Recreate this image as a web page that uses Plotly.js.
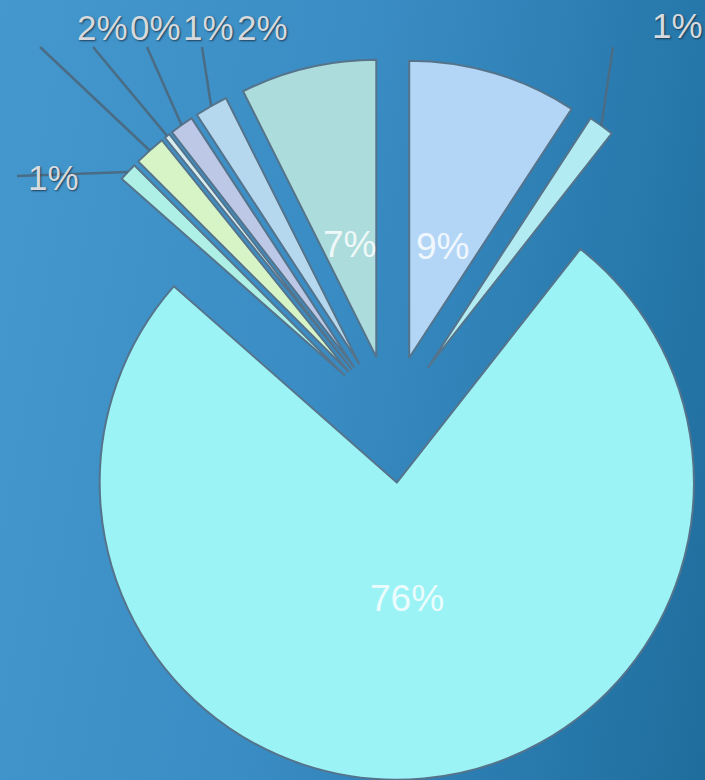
<!DOCTYPE html>
<html>
<head>
<meta charset="utf-8">
<script src="https://cdn.plot.ly/plotly-3.0.1.min.js"></script>
<style>
html, body { margin:0; padding:0; width:705px; height:780px; overflow:hidden;
  background: linear-gradient(100deg, #4498cd 0%, #3a8dc4 45%, #2a7cb0 75%, #1f6d9c 100%); }
#chart { position:absolute; left:0; top:0; width:752px; height:780px; }
</style>
</head>
<body>
<div id="chart"></div>
<script>
// ---- data ----
const categories = ['Slice A','Slice B','Slice C','Slice D','Slice E','Slice F','Slice G','Slice H','Slice I'];
const values = [9.2, 1.4, 75.9, 1.0, 1.7, 0.3, 1.3, 1.8, 7.4];
const sliceColors = ['#b4d6f6','#b2ecf2','#9cf3f6','#aef0e6','#d6f4c6','#d8ecee','#bcc8e6','#b6d8ee','#acdcdc'];
const labelPlacement = ['inside','outside','inside','outside','outside','outside','outside','outside','inside'];

// ---- layout constants ----
const W = 752, H = 780, M = {l:30, r:0, t:58, b:0};
const PULL = 0.215;
const INSIDE_FRAC = 0.39;
// outside label placement (pixel positions of leader-line end and label centre)
const outsideLabels = {
  1: {end:[613,47],  text:[677,26]},
  3: {end:[17,176],  text:[53,177]},
  4: {end:[40,47],   text:[102,27]},
  5: {end:[93,47],   text:[155,27]},
  6: {end:[147,47],  text:[208,27]},
  7: {end:[202,47],  text:[262,27]}
};

const total = values.reduce((a,b)=>a+b,0);
const pctText = values.map(v => Math.round(v/total*100) + '%');

const gd = document.getElementById('chart');
const data = [{
  type:'pie',
  labels: categories,
  values: values,
  sort:false,
  direction:'clockwise',
  rotation:0,
  pull: PULL,
  textinfo:'none',
  textposition:'none',
  marker:{colors: sliceColors, line:{color:'#55748c', width:2}},
  hoverinfo:'none'
}];
const layout = {
  width:W, height:H, margin:M,
  paper_bgcolor:'rgba(0,0,0,0)', plot_bgcolor:'rgba(0,0,0,0)',
  showlegend:false
};
const pw = W - M.l - M.r, ph = H - M.t - M.b;
const toX = px => (px - M.l)/pw;
const toY = py => 1 - (py - M.t)/ph;
const FONT = 'Liberation Sans, Arial, sans-serif';

Plotly.newPlot(gd, data, layout, {staticPlot:true}).then(() => {
  const cd = gd.calcdata[0];
  const cd0 = cd[0];
  const shapes = [], annotations = [];
  cd.forEach(pt => {
    const i = pt.i;
    const cx = (pt.cxFinal !== undefined) ? pt.cxFinal : cd0.cx + PULL*pt.pxmid[0];
    const cy = (pt.cyFinal !== undefined) ? pt.cyFinal : cd0.cy + PULL*pt.pxmid[1];
    if (labelPlacement[i] === 'inside') {
      const tx = cx + INSIDE_FRAC*pt.pxmid[0], ty = cy + INSIDE_FRAC*pt.pxmid[1];
      annotations.push({xref:'paper', yref:'paper', x: toX(tx), y: toY(ty),
        xanchor:'center', yanchor:'middle', showarrow:false, text: pctText[i],
        font:{family:FONT, size:37, color:'rgba(255,255,255,0.82)'}});
      return;
    }
    const spec = outsideLabels[i];
    if (!spec) return;
    const sx = cx + pt.pxmid[0], sy = cy + pt.pxmid[1];
    shapes.push({type:'line', xref:'paper', yref:'paper',
      x0: toX(sx), y0: toY(sy), x1: toX(spec.end[0]), y1: toY(spec.end[1]),
      line:{color:'#4a6c84', width:2.5}});
    annotations.push({xref:'paper', yref:'paper', x: toX(spec.text[0]), y: toY(spec.text[1]),
      xanchor:'center', yanchor:'middle', showarrow:false, text: pctText[i],
      font:{family:FONT, size:35, color:'#d6dade',
            shadow:'1px 1px 2px rgba(20,40,60,0.8)'}});
  });
  return Plotly.relayout(gd, {shapes: shapes, annotations: annotations});
});
</script>
</body>
</html>
